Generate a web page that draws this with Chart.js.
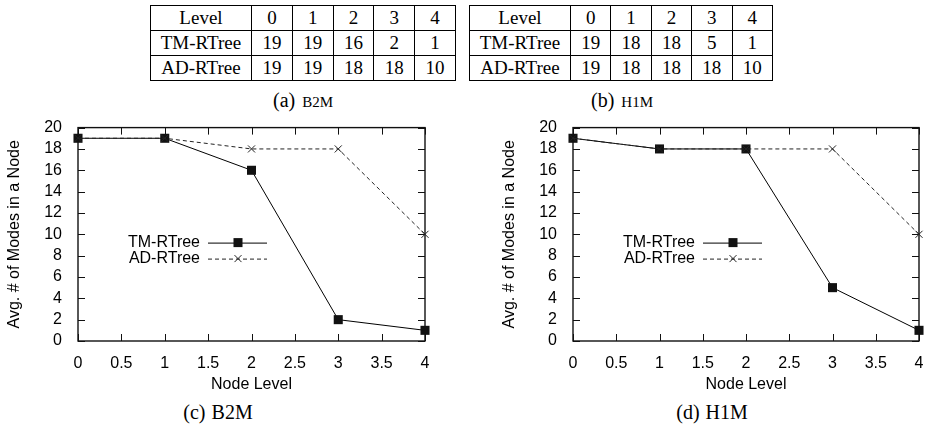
<!DOCTYPE html>
<html>
<head>
<meta charset="utf-8">
<script src="https://cdn.jsdelivr.net/npm/chart.js"></script>
<style>
  body { margin: 0; background: #fff; }
  #page { position: relative; width: 932px; height: 424px; overflow: hidden; background: #fff; }
  table.lv { position: absolute; border-collapse: collapse; table-layout: fixed;
             font-family: "Liberation Serif", "Times New Roman", serif; font-size: 19px; color: #000; }
  table.lv td { border: 1.5px solid #000; height: 24px; padding: 0; text-align: center; line-height: 22px; }
  .cap { position: absolute; transform: translateX(-50%); white-space: nowrap;
         font-family: "Liberation Serif", "Times New Roman", serif; font-size: 20px; line-height: 24px; color: #000; }
  .cap .sc { font-size: 15px; margin-left: 7px; }
  .cap .big { font-size: 20px; margin-left: 6px; }
  .plot { position: absolute; top: 110px; width: 466px; height: 290px; }
</style>
</head>
<body>
<div id="page">
  <table class="lv" id="tabA" style="left:150px; top:5px; width:306px;"></table>
  <table class="lv" id="tabB" style="left:469px; top:5px; width:304px;"></table>
  <div class="cap" style="left:303px; top:88px;">(a)<span class="sc">B2M</span></div>
  <div class="cap" style="left:622px; top:88px;">(b)<span class="sc">H1M</span></div>

  <div class="plot" style="left:0px;"><canvas id="chartC" width="466" height="290"></canvas></div>
  <div class="plot" style="left:466px;"><canvas id="chartD" width="466" height="290"></canvas></div>
  <div class="cap" style="left:218px; top:400px;">(c)<span class="big">B2M</span></div>
  <div class="cap" style="left:712px; top:400px;">(d)<span class="big">H1M</span></div>
</div>

<script>
// node levels and average number of modes per node
const levels = [0, 1, 2, 3, 4];
const b2mTM = [19, 19, 16, 2, 1];
const b2mAD = [19, 19, 18, 18, 10];
const h1mTM = [19, 18, 18, 5, 1];
const h1mAD = [19, 18, 18, 18, 10];
const xTicks = [0, 0.5, 1, 1.5, 2, 2.5, 3, 3.5, 4];
const yTicks = [0, 2, 4, 6, 8, 10, 12, 14, 16, 18, 20];

const sans = "'Liberation Sans', Arial, Helvetica, sans-serif";

function fillTable(id, tm, ad) {
  const t = document.getElementById(id);
  const rows = [['Level'].concat(levels), ['TM-RTree'].concat(tm), ['AD-RTree'].concat(ad)];
  let html = '<colgroup><col style="width:101px">' + levels.map(() => '<col>').join('') + '</colgroup>';
  rows.forEach(r => {
    html += '<tr>' + r.map(v => '<td>' + v + '</td>').join('') + '</tr>';
  });
  t.innerHTML = html;
}
fillTable('tabA', b2mTM, b2mAD);
fillTable('tabB', h1mTM, h1mAD);

// gnuplot style frame with inward ticks on all four sides
const frame = {
  id: 'frame',
  beforeDatasetsDraw(chart) {
    const {ctx, chartArea: a, scales: {x, y}} = chart;
    ctx.save();
    ctx.strokeStyle = '#111';
    ctx.lineWidth = 1.4;
    ctx.strokeRect(a.left, a.top, a.right - a.left, a.bottom - a.top);
    ctx.lineWidth = 1;
    ctx.beginPath();
    xTicks.forEach(v => {
      const px = Math.round(x.getPixelForValue(v)) + 0.5;
      ctx.moveTo(px, a.bottom); ctx.lineTo(px, a.bottom - 7);
      ctx.moveTo(px, a.top); ctx.lineTo(px, a.top + 7);
    });
    yTicks.forEach(v => {
      const py = Math.round(y.getPixelForValue(v)) + 0.5;
      ctx.moveTo(a.left, py); ctx.lineTo(a.left + 7, py);
      ctx.moveTo(a.right, py); ctx.lineTo(a.right - 7, py);
    });
    ctx.stroke();
    ctx.restore();
  }
};

// key drawn inside the plot, like gnuplot does
const key = {
  id: 'key',
  afterDatasetsDraw(chart) {
    const {ctx, chartArea: a} = chart;
    ctx.save();
    ctx.font = '16px ' + sans;
    ctx.fillStyle = '#000';
    ctx.textAlign = 'right';
    ctx.textBaseline = 'middle';
    chart.data.datasets.forEach((ds, i) => {
      const yy = a.top + 115 + i * 16;
      ctx.fillText(ds.label, a.left + 122, yy);
      ctx.strokeStyle = ds.borderColor;
      ctx.lineWidth = 1;
      ctx.setLineDash(ds.borderDash || []);
      ctx.beginPath();
      ctx.moveTo(a.left + 130, yy + 0.5);
      ctx.lineTo(a.left + 189, yy + 0.5);
      ctx.stroke();
      ctx.setLineDash([]);
      const mx = a.left + 160;
      if (ds.pointStyle === 'rect') {
        ctx.fillStyle = ds.pointBackgroundColor;
        ctx.fillRect(mx - 4.5, yy - 4.5, 9, 9);
        ctx.fillStyle = '#000';
      } else {
        const r = 3.5;
        ctx.beginPath();
        ctx.moveTo(mx - r, yy - r); ctx.lineTo(mx + r, yy + r);
        ctx.moveTo(mx - r, yy + r); ctx.lineTo(mx + r, yy - r);
        ctx.stroke();
      }
    });
    ctx.restore();
  }
};

function makeChart(id, tm, ad, padLeft, padRight) {
  return new Chart(document.getElementById(id), {
    type: 'line',
    data: {
      datasets: [
        {
          label: 'TM-RTree',
          data: levels.map((l, i) => ({x: l, y: tm[i]})),
          borderColor: '#000',
          borderWidth: 1,
          pointStyle: 'rect',
          pointRadius: 6.4,
          pointBackgroundColor: '#111',
          pointBorderColor: '#111',
          pointBorderWidth: 0,
          order: 1
        },
        {
          label: 'AD-RTree',
          data: levels.map((l, i) => ({x: l, y: ad[i]})),
          borderColor: '#222',
          borderWidth: 1,
          borderDash: [4, 3],
          pointStyle: 'crossRot',
          pointRadius: 5,
          pointBorderColor: '#222',
          pointBorderWidth: 1,
          order: 0
        }
      ]
    },
    options: {
      responsive: false,
      animation: false,
      clip: false,
      layout: {padding: {left: padLeft, right: padRight, top: 16, bottom: 0}},
      plugins: {legend: {display: false}, tooltip: {enabled: false}},
      scales: {
        x: {
          type: 'linear', min: 0, max: 4,
          grid: {display: false},
          border: {display: false},
          ticks: {stepSize: 0.5, autoSkip: false, padding: 5, color: '#000', maxRotation: 0,
                  font: {family: sans, size: 16}, callback: v => String(v)},
          title: {display: true, text: 'Node Level', color: '#000', padding: {top: 0, bottom: 6},
                  font: {family: sans, size: 16}},
          afterFit(s) { s.height = 59; }
        },
        y: {
          min: 0, max: 20,
          grid: {display: false},
          border: {display: false},
          ticks: {stepSize: 2, autoSkip: false, padding: 8, color: '#000',
                  font: {family: sans, size: 16}, callback: v => String(v)},
          title: {display: true, text: 'Avg. # of Modes in a Node', color: '#000', padding: {top: 5, bottom: 0},
                  font: {family: sans, size: 16}},
          afterFit(s) { s.width = 78; }
        }
      }
    },
    plugins: [frame, key]
  });
}

makeChart('chartC', b2mTM, b2mAD, 0, 41);
makeChart('chartD', h1mTM, h1mAD, 29, 13);
</script>
</body>
</html>
